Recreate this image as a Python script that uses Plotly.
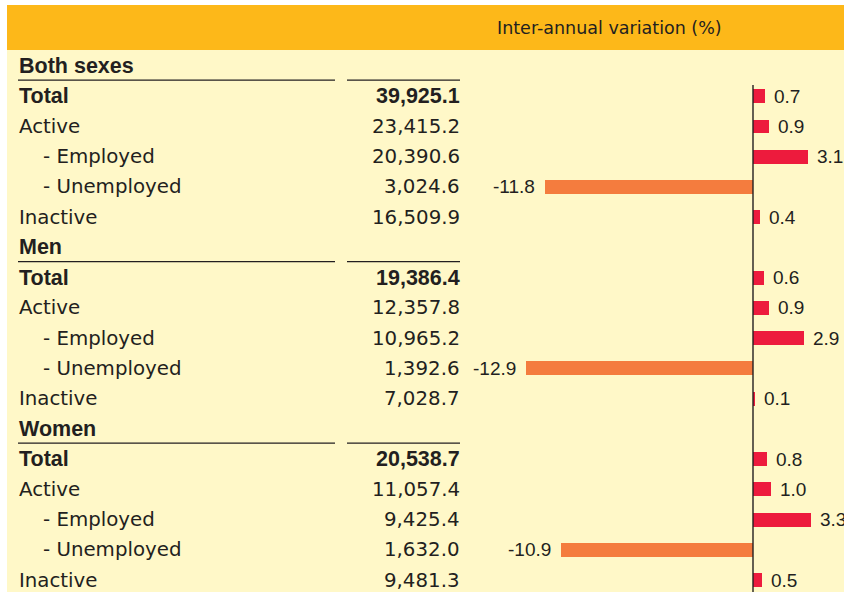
import plotly.graph_objects as go

# ---- data ----
groups = ["Both sexes", "Men", "Women"]
items = ["Total", "Active", "- Employed", "- Unemployed", "Inactive"]
values_both = [39925.1, 23415.2, 20390.6, 3024.6, 16509.9]
values_men = [19386.4, 12357.8, 10965.2, 1392.6, 7028.7]
values_women = [20538.7, 11057.4, 9425.4, 1632.0, 9481.3]
var_both = [0.7, 0.9, 3.1, -11.8, 0.4]
var_men = [0.6, 0.9, 2.9, -12.9, 0.1]
var_women = [0.8, 1.0, 3.3, -10.9, 0.5]
header_title = "Inter-annual variation (%)"

group_values = [values_both, values_men, values_women]
group_vars = [var_both, var_men, var_women]

W, H = 844, 592
TEXT = "#231F20"
RED = "#ED1B3D"
ORANGE = "#F47C3E"
PANEL = "#FFF8C8"
HEADER = "#FDB819"

# row layout
row_y, row_lab, row_val, row_var, row_kind = [], [], [], [], []
r = 0
for g, vals, vrs in zip(groups, group_values, group_vars):
    row_y.append(r); row_lab.append(g); row_val.append(None); row_var.append(None); row_kind.append("group")
    r += 1
    for it, v, d in zip(items, vals, vrs):
        row_y.append(r); row_lab.append(it); row_val.append(v); row_var.append(d)
        row_kind.append("total" if it == "Total" else ("sub" if it.startswith("-") else "item"))
        r += 1

px = lambda x: x / W
py = lambda y: 1 - y / H
row0, pitch = 66.0, 30.24
y_top = (0 - row0) / pitch
y_bot = (H - row0) / pitch
zero_px, unit = 753.0, 17.6
x_left = -zero_px / unit
x_right = (W - zero_px) / unit

bar_y = [y for y, d in zip(row_y, row_var) if d is not None]
bar_x = [d for d in row_var if d is not None]
bar_c = [RED if d >= 0 else ORANGE for d in bar_x]

fig = go.Figure()
fig.add_trace(go.Bar(y=bar_y, x=bar_x, orientation="h", width=0.46,
                     marker=dict(color=bar_c, line=dict(width=0)),
                     hoverinfo="skip", showlegend=False))

shapes = [
    dict(type="rect", xref="paper", yref="paper", x0=px(7), x1=1, y0=0, y1=py(50),
         fillcolor=PANEL, line=dict(width=0), layer="below"),
    dict(type="rect", xref="paper", yref="paper", x0=px(7), x1=1, y0=py(50), y1=py(5),
         fillcolor=HEADER, line=dict(width=0), layer="below"),
    dict(type="line", xref="x", yref="y", x0=0, x1=0, y0=(85 - row0) / pitch, y1=y_bot,
         line=dict(color=TEXT, width=1.4)),
]
annotations = [
    dict(text=header_title, xref="paper", yref="paper", x=px(609), y=py(28),
         showarrow=False, font=dict(family="DejaVu Sans", size=17.5, color=TEXT),
         xanchor="center", yanchor="middle"),
]

for y, lab, val, d, kind in zip(row_y, row_lab, row_val, row_var, row_kind):
    bold = kind in ("group", "total")
    font_lab = (dict(family="Liberation Sans", size=21.5, color=TEXT, weight="bold") if bold
                else dict(family="DejaVu Sans", size=19.8, color=TEXT))
    annotations.append(dict(text=lab, xref="paper", yref="y", x=px(41 if kind == "sub" else 17), y=y,
                            showarrow=False, xanchor="left", yanchor="middle", font=font_lab))
    if kind == "group":
        ly = y + 0.47
        shapes.append(dict(type="line", xref="paper", yref="y", x0=px(18), x1=px(335), y0=ly, y1=ly,
                           line=dict(color=TEXT, width=1.3)))
        shapes.append(dict(type="line", xref="paper", yref="y", x0=px(347), x1=px(460), y0=ly, y1=ly,
                           line=dict(color=TEXT, width=1.3)))
    if val is not None:
        annotations.append(dict(text=f"{val:,.1f}", xref="paper", yref="y", x=px(462), y=y,
                                showarrow=False, xanchor="right", yanchor="middle", font=font_lab))
    if d is not None:
        annotations.append(dict(text=f"{d:.1f}", xref="x", yref="y", x=d, y=y,
                                showarrow=False, xanchor="left" if d >= 0 else "right",
                                xshift=7 if d >= 0 else -8, yanchor="middle",
                                font=dict(family="Liberation Sans", size=19, color=TEXT)))

fig.update_layout(
    width=W, height=H, margin=dict(l=0, r=0, t=0, b=0),
    paper_bgcolor="white", plot_bgcolor="rgba(0,0,0,0)",
    xaxis=dict(range=[x_left, x_right], visible=False, fixedrange=True),
    yaxis=dict(range=[y_bot, y_top], visible=False, fixedrange=True),
    shapes=shapes, annotations=annotations, bargap=0,
)
fig.write_html("out.html", config={"displayModeBar": False},
               post_script="document.body.style.margin='0';document.body.style.overflow='hidden';")
